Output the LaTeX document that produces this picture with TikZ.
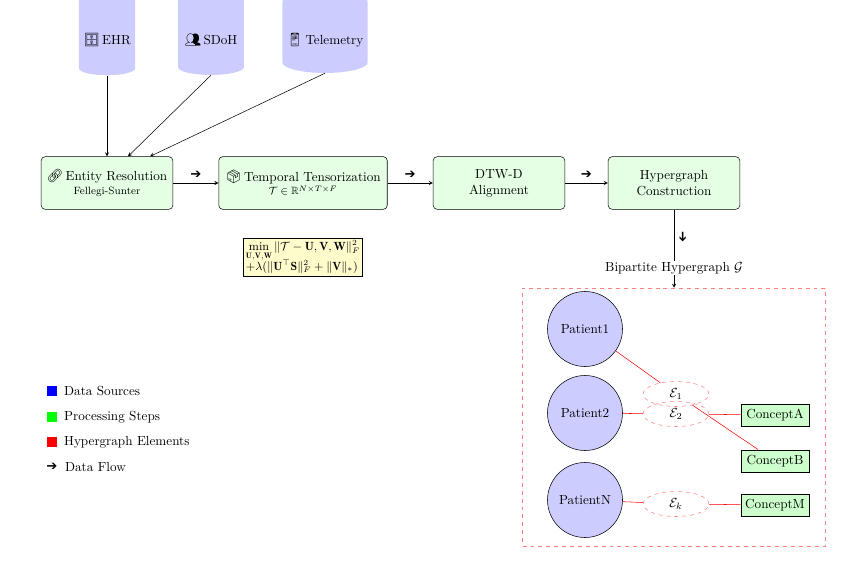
\documentclass[tikz,border=0pt]{standalone}
\usepackage{tikz}
\usetikzlibrary{arrows}
\usetikzlibrary{shapes.geometric, positioning, calc}
\usepackage{amsmath,amssymb}
\usepackage{fontspec}
\newfontfamily\emojifont{Noto Emoji}
\newfontfamily\symfont{DejaVu Sans}
\newcommand{\icn}[1]{{\emojifont #1}}
\newcommand{\flowsym}{{\symfont ➔}}

\tikzset{
  source/.style={cylinder, shape border rotate=90, aspect=0.25, fill=blue!20, draw=none, minimum width=#1, minimum height=62pt},
  procbox/.style={rectangle, rounded corners=3pt, draw, fill=green!10, minimum width=100pt, minimum height=40pt, align=center},
  patient/.style={circle, draw, fill=blue!20, minimum size=57pt, inner sep=0pt},
  hedge/.style={ellipse, draw=red!50, dashed, minimum width=50pt, minimum height=19pt, inner sep=0pt},
  concept/.style={rectangle, draw, fill=green!20, minimum width=52pt, minimum height=17pt, inner sep=2pt},
  flow/.style={->, >=stealth},
  legbox/.style={rectangle, minimum size=7pt, inner sep=0pt}
}

\begin{document}
\begin{tikzpicture}[x=0.0267cm, y=-0.0267cm]
    \useasboundingbox (0,0) rectangle (859,562);

    % data sources
    \node[source=40pt] (ehr) at (107,40) {\icn{🗄}\,EHR};
    \node[source=50pt] (sdoh) at (211,40) {\icn{👥}\,SDoH};
    \node[source=60pt] (tele) at (325,40) {\icn{📱}\,Telemetry};

    % processing steps
    \node[procbox] (er) at (107,183) {\icn{🔗}\,Entity Resolution\\[-2pt] {\footnotesize Fellegi-Sunter}};
    \node[procbox, minimum width=128pt] (tt) at (303,183) {\icn{📦}\,Temporal Tensorization\\[-2pt] {\footnotesize $\mathcal{T}\in\mathbb{R}^{N\times T\times F}$}};
    \node[procbox] (dtw) at (499,183) {DTW-D\\ Alignment};
    \node[procbox] (hg) at (674,183) {Hypergraph\\ Construction};

    \node[draw, fill=yellow!20, align=left, inner sep=2pt, font=\small] (obj) at (303,257)
      {$\min\limits_{\mathbf{U},\mathbf{V},\mathbf{W}} \|\mathcal{T}-\mathbf{U},\mathbf{V},\mathbf{W}\|_F^2$\\[-2pt]
       $+\lambda(\|\mathbf{U}^\top\mathbf{S}\|_F^2+\|\mathbf{V}\|_*)$};

    \draw[flow] (ehr.bottom) -- (er.north);
    \draw[flow] (sdoh.bottom) -- (er.north -| 128,0);
    \draw[flow] (tele.bottom) -- (er.north -| 150,0);

    \draw[flow] (er) -- node[above] {\flowsym} (tt);
    \draw[flow] (tt) -- node[above] {\flowsym} (dtw);
    \draw[flow] (dtw) -- node[above] {\flowsym} (hg);

    % hypergraph
    \node[draw=red!50, dashed, minimum width=230pt, minimum height=196pt] (frame) at (674,417) {};
    \draw[flow] (hg) -- node[right, pos=0.35] {\rotatebox{-90}{\flowsym}} node[pos=0.75, fill=white, inner sep=1pt] {Bipartite Hypergraph $\mathcal{G}$} (frame.north);

    \node[patient] (p1) at (585,329) {Patient1};
    \node[patient] (p2) at (585,413) {Patient2};
    \node[patient] (pn) at (585,500) {PatientN};

    \node[hedge] (e1) at (676,394) {$\mathcal{E}_1$};
    \node[hedge] (e2) at (676,414) {$\mathcal{E}_2$};
    \node[hedge] (ek) at (676,504) {$\mathcal{E}_k$};

    \node[concept] (ca) at (775,415) {ConceptA};
    \node[concept] (cb) at (775,461) {ConceptB};
    \node[concept] (cm) at (775,505) {ConceptM};

    \draw[red] (p1) -- (e1);
    \draw[red] (p2) -- (e2);
    \draw[red] (e2) -- (ca);
    \draw[red] (e1) -- (cb);
    \draw[red] (pn) -- (ek);
    \draw[red] (ek) -- (cm);

    % legend
    \node[legbox, fill=blue] (l1) at (52,391) {};
    \node[right=2pt of l1] {Data Sources};
    \node[legbox, fill=green] (l2) at (52,417) {};
    \node[right=2pt of l2] {Processing Steps};
    \node[legbox, fill=red] (l3) at (52,442) {};
    \node[right=2pt of l3] {Hypergraph Elements};
    \node[inner sep=0pt] (l4) at (52,467) {\flowsym};
    \node[right=2pt of l4] {Data Flow};
\end{tikzpicture}
\end{document}
